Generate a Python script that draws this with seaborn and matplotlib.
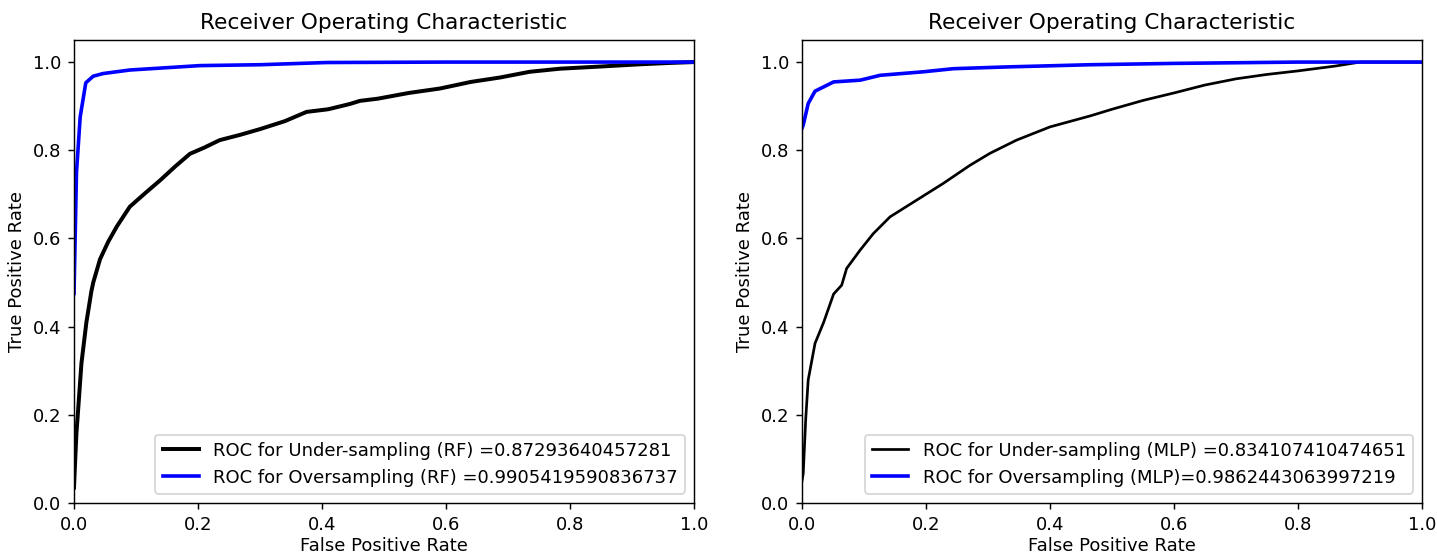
import matplotlib
matplotlib.use("Agg")
import matplotlib.pyplot as plt
import seaborn as sns

# --- ROC points (fpr, tpr) ---
rf_under_fpr = [0.0, 0.002, 0.004, 0.007, 0.012, 0.02, 0.028, 0.031, 0.042, 0.055, 0.069, 0.09,
                0.115, 0.139, 0.163, 0.187, 0.21, 0.235, 0.268, 0.3, 0.34, 0.375, 0.41, 0.445,
                0.461, 0.49, 0.54, 0.59, 0.64, 0.687, 0.735, 0.784, 0.85, 0.913, 0.96, 1.0]
rf_under_tpr = [0.035, 0.1, 0.16, 0.218, 0.317, 0.41, 0.48, 0.5, 0.553, 0.592, 0.627, 0.672,
                0.703, 0.732, 0.763, 0.792, 0.806, 0.823, 0.835, 0.848, 0.866, 0.887, 0.893, 0.905,
                0.912, 0.917, 0.93, 0.94, 0.955, 0.965, 0.978, 0.985, 0.99, 0.995, 0.998, 1.0]

rf_over_fpr = [0.0, 0.004, 0.01, 0.019, 0.031, 0.047, 0.09, 0.203, 0.3, 0.408, 0.6, 0.8, 1.0]
rf_over_tpr = [0.475, 0.75, 0.876, 0.953, 0.968, 0.974, 0.982, 0.992, 0.994, 0.999, 1.0, 1.0, 1.0]

mlp_under_fpr = [0.0, 0.002, 0.006, 0.01, 0.021, 0.035, 0.051, 0.064, 0.072, 0.094, 0.115, 0.142,
                 0.185, 0.228, 0.271, 0.303, 0.346, 0.4, 0.465, 0.5, 0.55, 0.6, 0.65, 0.7, 0.75,
                 0.8, 0.86, 0.9, 1.0]
mlp_under_tpr = [0.05, 0.067, 0.19, 0.279, 0.362, 0.41, 0.474, 0.494, 0.532, 0.574, 0.611, 0.649,
                 0.687, 0.725, 0.766, 0.793, 0.823, 0.853, 0.878, 0.893, 0.913, 0.93, 0.948, 0.962,
                 0.972, 0.98, 0.991, 1.0, 1.0]

mlp_over_fpr = [0.0, 0.002, 0.01, 0.021, 0.051, 0.094, 0.126, 0.196, 0.244, 0.33, 0.465, 0.6, 0.8, 1.0]
mlp_over_tpr = [0.85, 0.857, 0.906, 0.934, 0.955, 0.959, 0.97, 0.978, 0.985, 0.989, 0.994, 0.997, 1.0, 1.0]

rf_labels = ["ROC for Under-sampling (RF) =0.87293640457281",
             "ROC for Oversampling (RF) =0.9905419590836737"]
mlp_labels = ["ROC for Under-sampling (MLP) =0.834107410474651",
              "ROC for Oversampling (MLP)=0.9862443063997219"]

# --- Figure ---
fig = plt.figure(figsize=(1437 / 130, 556 / 130), dpi=130)
ax1 = fig.add_axes([0.0515, 0.0953, 0.4315, 0.8327])
ax2 = fig.add_axes([0.5581, 0.0953, 0.4315, 0.8327])

sns.lineplot(x=rf_under_fpr, y=rf_under_tpr, sort=False, estimator=None, color="black",
             linewidth=2.2, label=rf_labels[0], ax=ax1)
sns.lineplot(x=rf_over_fpr, y=rf_over_tpr, sort=False, estimator=None, color="blue",
             linewidth=2.0, label=rf_labels[1], ax=ax1)

sns.lineplot(x=mlp_under_fpr, y=mlp_under_tpr, sort=False, estimator=None, color="black",
             linewidth=1.5, label=mlp_labels[0], ax=ax2)
sns.lineplot(x=mlp_over_fpr, y=mlp_over_tpr, sort=False, estimator=None, color="blue",
             linewidth=2.0, label=mlp_labels[1], ax=ax2)

for ax in (ax1, ax2):
    ax.set_xlim(0, 1)
    ax.set_ylim(0, 1.05)
    ax.set_title("Receiver Operating Characteristic")
    ax.set_xlabel("False Positive Rate", labelpad=2)
    ax.set_ylabel("True Positive Rate")
    ax.legend(loc="lower right")

plt.savefig("out.png", dpi=130)
